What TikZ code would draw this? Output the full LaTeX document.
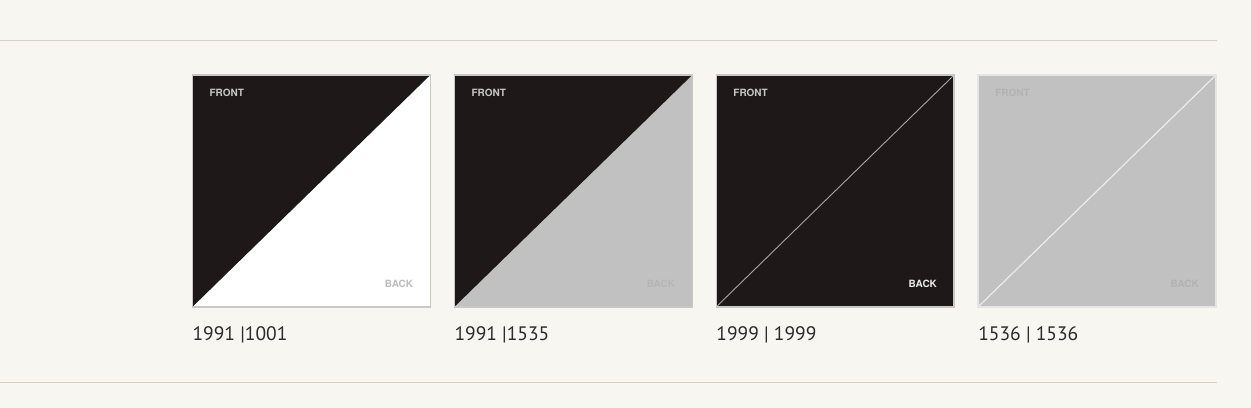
\documentclass[tikz,border=0pt]{standalone}
\usepackage{fontspec}
\setmainfont{PT Sans}
\newfontfamily\helv{TeX Gyre Heros}
\usetikzlibrary{positioning}
\pgfdeclarelayer{bg}
\pgfsetlayers{bg,main}
\definecolor{paper}{HTML}{F7F6F1}
\definecolor{rule}{HTML}{D3D1C4}
\definecolor{rim}{HTML}{C9C8C2}
\definecolor{ink}{HTML}{1F1819}
\definecolor{stone}{HTML}{C1C1C1}
\definecolor{numtext}{HTML}{2A2A2A}
\tikzset{
    swatch/.style={rectangle, draw=none, outer sep=0pt, inner sep=0pt, minimum width=238pt, minimum height=232pt, anchor=north west},
    side/.style={font=\helv\bfseries\fontsize{10}{10}\selectfont, inner sep=0pt},
    code/.style={font=\fontsize{19.5}{20}\selectfont, text=numtext, inner sep=0pt, anchor=base west}
}
\tikzset{border/.style={draw=rim, line width=1.3pt}}
\begin{document}
\begin{tikzpicture}[x=1pt, y=-1pt]
    \begin{pgfonlayer}{bg}
        \fill[paper] (0,0) rectangle (1251,408);
        \draw[rule, line width=1pt] (0,41) -- (1217,41);
        \draw[rule, line width=1pt] (0,383) -- (1217,383);
    \end{pgfonlayer}
    \useasboundingbox (0,0) rectangle (1251,408);

    % black | white
    \node (sq1) at (192,75) [swatch, fill=white] {};
    \fill[ink] (sq1.north west) -- (sq1.north east) -- (sq1.south west) -- cycle;
    \draw[border] (sq1.north west) rectangle (sq1.south east);
    \node (f1) at ([xshift=17pt, yshift=-18pt]sq1.north west) [side, anchor=west, text=black!22] {FRONT};
    \node (b1) at ([xshift=-17pt, yshift=23pt]sq1.south east) [side, anchor=east, text=black!26] {BACK};
    \node (c1) at ([yshift=-34pt]sq1.south west) [code] {1991 |1001};

    % black | grey
    \node (sq2) at (454,75) [swatch, fill=stone] {};
    \fill[ink] (sq2.north west) -- (sq2.north east) -- (sq2.south west) -- cycle;
    \draw[border] (sq2.north west) rectangle (sq2.south east);
    \node (f2) at ([xshift=17pt, yshift=-18pt]sq2.north west) [side, anchor=west, text=black!22] {FRONT};
    \node (b2) at ([xshift=-17pt, yshift=23pt]sq2.south east) [side, anchor=east, text=black!29] {BACK};
    \node (c2) at ([yshift=-34pt]sq2.south west) [code] {1991 |1535};

    % black | black
    \node (sq3) at (716,75) [swatch, fill=ink] {};
    \draw[black!35, line width=0.9pt] (sq3.south west) -- (sq3.north east);
    \draw[border] (sq3.north west) rectangle (sq3.south east);
    \node (f3) at ([xshift=17pt, yshift=-18pt]sq3.north west) [side, anchor=west, text=black!22] {FRONT};
    \node (b3) at ([xshift=-17pt, yshift=23pt]sq3.south east) [side, anchor=east, text=black!8] {BACK};
    \node (c3) at ([yshift=-34pt]sq3.south west) [code] {1999 | 1999};

    % grey | grey
    \node (sq4) at (978,75) [swatch, fill=stone] {};
    \draw[black!8, line width=1.2pt] (sq4.south west) -- (sq4.north east);
    \draw[border, draw=black!10] (sq4.north west) rectangle (sq4.south east);
    \node (f4) at ([xshift=17pt, yshift=-18pt]sq4.north west) [side, anchor=west, text=black!30] {FRONT};
    \node (b4) at ([xshift=-17pt, yshift=23pt]sq4.south east) [side, anchor=east, text=black!30] {BACK};
    \node (c4) at ([yshift=-34pt]sq4.south west) [code] {1536 | 1536};
\end{tikzpicture}
\end{document}
